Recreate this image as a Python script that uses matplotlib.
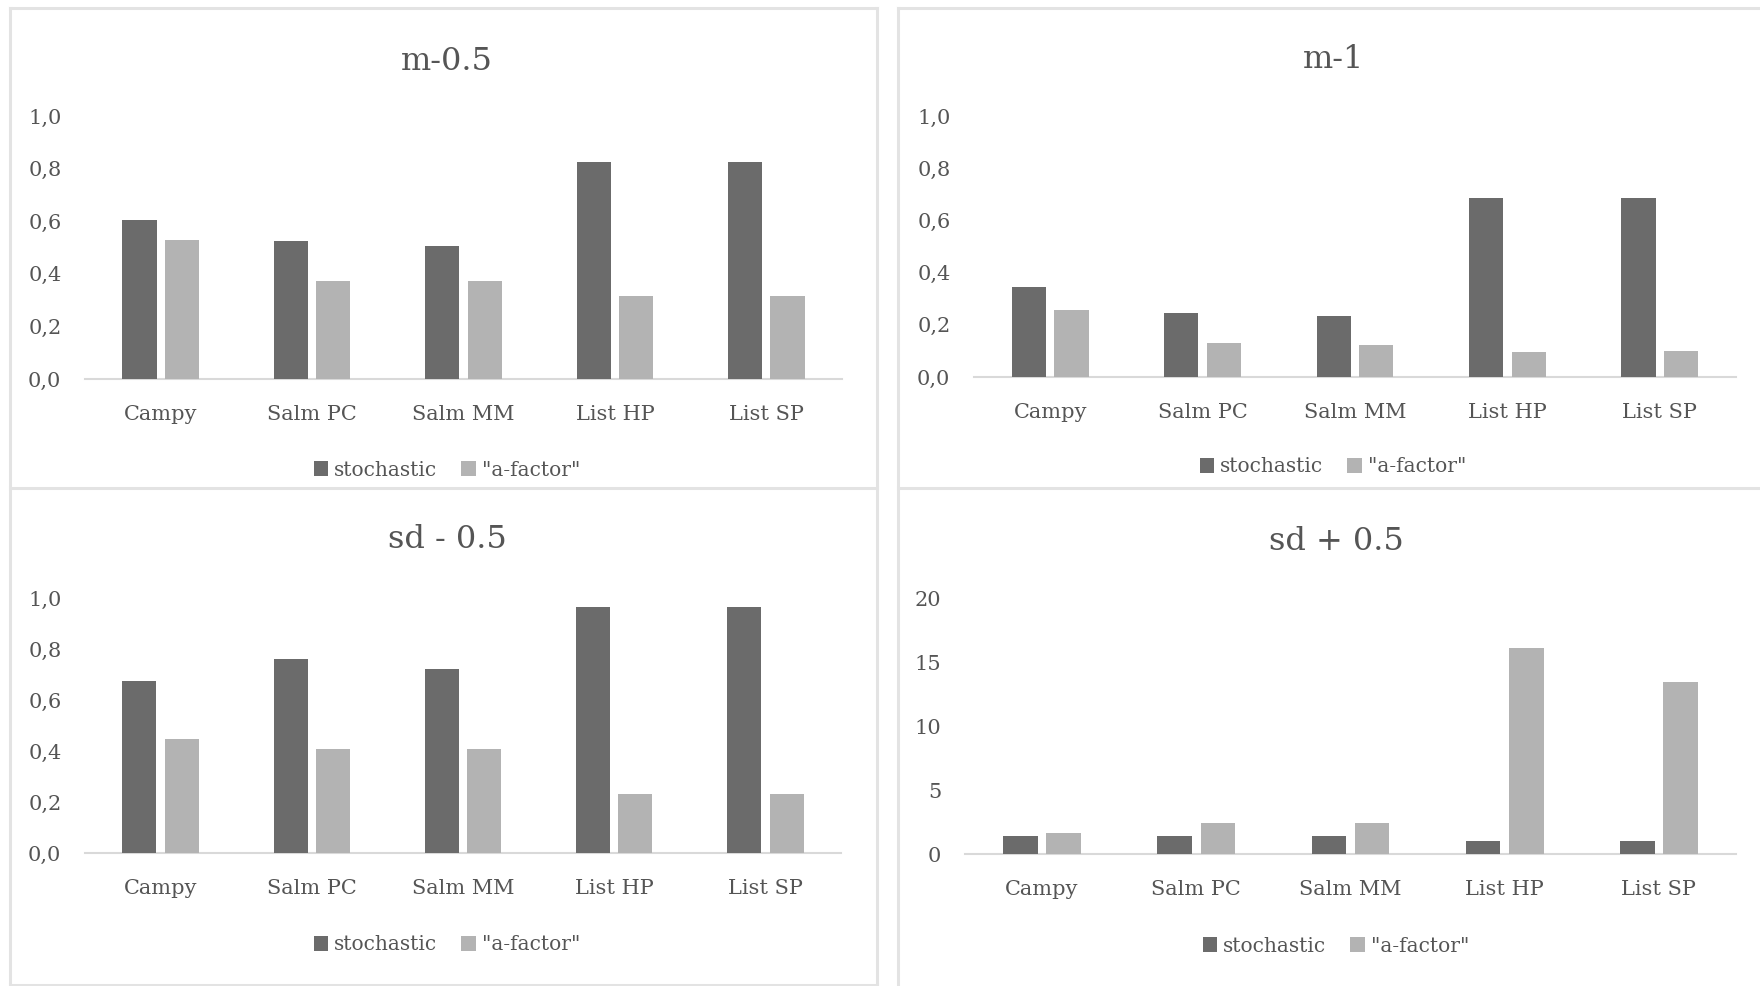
import numpy as np
import matplotlib
matplotlib.use("Agg")
import matplotlib.pyplot as plt
from matplotlib.ticker import FuncFormatter
from matplotlib.lines import Line2D

# Données
categories = ["Campy", "Salm PC", "Salm MM", "List HP", "List SP"]
series_names = ["stochastic", "\"a-factor\""]

titles = ["m-0.5", "m-1", "sd - 0.5", "sd + 0.5"]

stoch_m05 = [0.605, 0.523, 0.504, 0.824, 0.824]
afac_m05 = [0.529, 0.371, 0.371, 0.314, 0.314]

stoch_m1 = [0.345, 0.246, 0.232, 0.686, 0.686]
afac_m1 = [0.257, 0.130, 0.124, 0.096, 0.100]

stoch_sdm = [0.676, 0.761, 0.722, 0.963, 0.963]
afac_sdm = [0.448, 0.408, 0.408, 0.233, 0.233]

stoch_sdp = [1.44, 1.44, 1.44, 1.02, 1.02]
afac_sdp = [1.65, 2.46, 2.46, 16.1, 13.4]

yticks_frac = [0.0, 0.2, 0.4, 0.6, 0.8, 1.0]
yticks_int = [0, 5, 10, 15, 20]

# Style
W, H = 1760, 986
dark = "#6b6b6b"
light = "#b3b3b3"
txt = "#555555"
border = "#e3e3e3"
plt.rcParams['font.family'] = ['DejaVu Serif']

fig = plt.figure(figsize=(W / 100, H / 100), dpi=100)


def rect(x0, y0, x1, y1):
    return [x0 / W, 1 - y1 / H, (x1 - x0) / W, (y1 - y0) / H]


# cadres des panneaux
def hline(y, x0, x1):
    fig.add_artist(Line2D([x0 / W, x1 / W], [1 - y / H, 1 - y / H], color=border, lw=2.2))


def vline(x, y0, y1):
    fig.add_artist(Line2D([x / W, x / W], [1 - y0 / H, 1 - y1 / H], color=border, lw=2.2))


hline(8, 10, 877)
hline(8, 898, W)
hline(488, 10, 877)
hline(488, 898, W)
hline(985, 10, 877)
vline(10, 8, 985)
vline(877, 8, 985)
vline(898, 8, 986)

panels = [
    # (stoch, afac, cadre des axes, y titre, y légende, x centre, yticks, virgule)
    (stoch_m05, afac_m05, (85, 116, 842, 379), 62, 470, 447, yticks_frac, True),
    (stoch_m1, afac_m1, (974, 116, 1736, 377), 60, 467, 1333, yticks_frac, True),
    (stoch_sdm, afac_sdm, (85, 598, 841, 853), 540, 945, 447, yticks_frac, True),
    (stoch_sdp, afac_sdp, (965, 598, 1736, 854), 541, 946, 1336, yticks_int, False),
]

x = np.arange(len(categories))
bw = 0.225

for i, (s, a, box, ty, ly, cx, yt, comma) in enumerate(panels):
    ax = fig.add_axes(rect(*box))
    b1 = ax.bar(x - 0.14, s, bw, color=dark, label=series_names[0])
    b2 = ax.bar(x + 0.14, a, bw, color=light, label=series_names[1])
    ax.set_xlim(-0.5, len(categories) - 0.5)
    ax.set_ylim(yt[0], yt[-1])
    ax.set_yticks(yt)
    if comma:
        ax.yaxis.set_major_formatter(FuncFormatter(lambda v, p: f"{v:.1f}".replace(".", ",")))
    else:
        ax.yaxis.set_major_formatter(FuncFormatter(lambda v, p: f"{v:.0f}"))
    ax.set_xticks(x)
    ax.set_xticklabels(categories)
    ax.tick_params(axis='both', length=0, labelsize=15, labelcolor=txt)
    ax.tick_params(axis='x', pad=19)
    ax.tick_params(axis='y', pad=17)
    for sp in ["top", "right", "left"]:
        ax.spines[sp].set_visible(False)
    ax.spines["bottom"].set_color("#d9d9d9")
    ax.spines["bottom"].set_linewidth(1.5)
    ax.spines["bottom"].set_zorder(0)
    ax.set_facecolor("none")

    fig.text(cx / W, 1 - ty / H, titles[i], ha="center", va="center",
             fontsize=23, color=txt)
    leg = fig.legend(handles=[b1, b2], loc="center", bbox_to_anchor=(cx / W, 1 - ly / H),
                     ncol=2, frameon=False, fontsize=14.5,
                     handlelength=0.7, handleheight=0.7, handletextpad=0.3, columnspacing=1.2)
    for t in leg.get_texts():
        t.set_family("DejaVu Serif")
        t.set_color(txt)

fig.savefig("out.png", dpi=100)
